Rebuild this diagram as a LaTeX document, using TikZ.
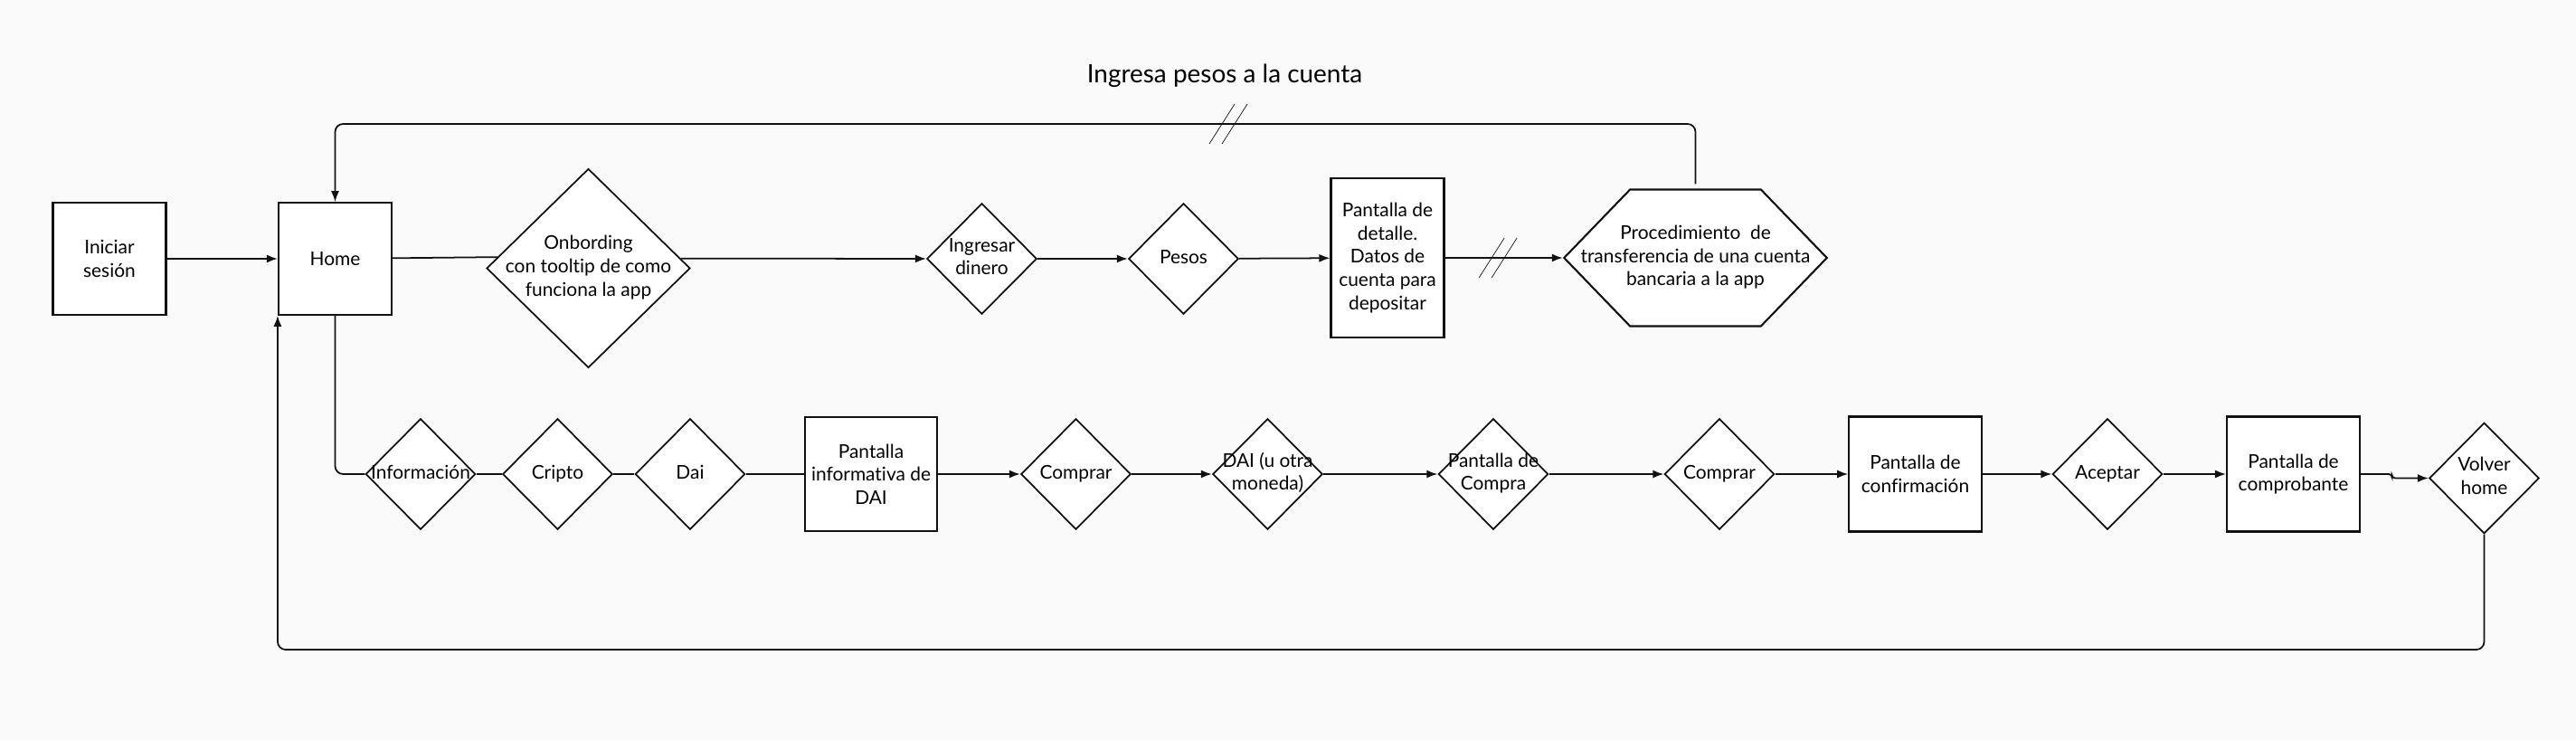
\documentclass[tikz,border=0pt]{standalone}
\usepackage{fontspec}
\setmainfont{Lato}[Ligatures=NoCommon]
\usepackage{tikz}
\usetikzlibrary{arrows.meta,shapes.geometric,shapes.symbols}
\definecolor{canvas}{HTML}{FAFAFA}
\definecolor{ink}{HTML}{111111}
\tikzset{
  screen/.style={draw=ink, line width=1.2pt, fill=white, align=center, inner sep=2pt, minimum width=2.5cm, minimum height=2.47cm},
  choice/.style={diamond, draw=ink, line width=1pt, fill=white, inner sep=0pt, minimum width=2.43cm, minimum height=2.45cm},
  procedure/.style={signal, signal to=west and east, signal pointer angle=92, draw=ink, line width=1.2pt, fill=white, inner sep=0pt, minimum width=5.81cm, minimum height=3.02cm},
  arrow/.style={-{Latex[length=2.4mm, width=1.8mm]}, line width=1pt, draw=ink},
  link/.style={line width=1pt, draw=ink},
  cutmark/.style={draw=ink, line width=0.4pt},
  breakmark/.pic={\draw[cutmark] (-0.42,-0.44) -- (0.14,0.44); \draw[cutmark] (-0.14,-0.44) -- (0.42,0.44);}
}
\newcommand{\ctext}[1]{\makebox[0pt]{\begin{tabular}{@{}c@{}}#1\end{tabular}}}

\begin{document}
\begin{tikzpicture}[font=\fontsize{11.9}{14.6}\selectfont]
  \fill[canvas] (0,0) rectangle (56.96,16.36);

  \node[font=\fontsize{15.9}{19}\selectfont] (title) at (27.08,14.69) {Ingresa pesos a la cuenta};

  % deposit flow
  \node[screen] (login) at (2.42,10.64) {Iniciar\\sesión};
  \node[screen] (home) at (7.41,10.64) {Home};
  \node[choice, minimum width=4.50cm, minimum height=4.40cm] (onboard) at (13.01,10.43) {\ctext{Onbording\\con tooltip de como\\funciona la app}};
  \node[choice] (deposit) at (21.71,10.64) {\ctext{Ingresar\\dinero}};
  \node[choice] (pesos) at (26.17,10.64) {\ctext{Pesos}};
  \node[screen, minimum height=3.51cm] (detail) at (30.68,10.66) {Pantalla de\\detalle.\\Datos de\\cuenta para\\depositar};
  \node[procedure] (transfer) at (37.49,10.66) {\ctext{Procedimiento\ \ de\\transferencia de una cuenta\\bancaria a la app}};

  % purchase flow
  \node[choice] (info) at (9.30,5.88) {\ctext{Información}};
  \node[choice] (crypto) at (12.33,5.88) {\ctext{Cripto}};
  \node[choice] (dai) at (15.26,5.88) {\ctext{Dai}};
  \node[screen, minimum width=2.92cm, minimum height=2.51cm] (daiInfo) at (19.26,5.88) {Pantalla\\informativa de\\DAI};
  \node[choice] (buy1) at (23.79,5.88) {\ctext{Comprar}};
  \node[choice] (coin) at (28.03,5.88) {\ctext{DAI (u otra\\moneda)}};
  \node[choice] (buyScreen) at (33.02,5.88) {\ctext{Pantalla de\\Compra}};
  \node[choice] (buy2) at (38.02,5.88) {\ctext{Comprar}};
  \node[screen, minimum width=2.93cm, minimum height=2.54cm] (confirm) at (42.35,5.88) {Pantalla de\\confirmación};
  \node[choice] (accept) at (46.60,5.88) {\ctext{Aceptar}};
  \node[screen, minimum width=2.94cm, minimum height=2.54cm] (receipt) at (50.71,5.88) {Pantalla de\\comprobante};
  \node[choice] (back) at (54.93,5.79) {\ctext{Volver\\home}};

  \coordinate (loopTop) at (7.41,13.62);
  \coordinate (loopBottom) at (54.93,2.00);
  \coordinate (jog) at (52.89,5.88);

  \draw[arrow] (login) -- (home);
  \draw[link] (home) -- (onboard.173.8);
  \draw[arrow] (onboard.6.2) -- (deposit);
  \draw[arrow] (deposit) -- (pesos);
  \draw[arrow] (pesos) -- (detail);
  \draw[arrow] (detail) -- (transfer) coordinate[pos=0.45] (cutMid);
  \draw[arrow, rounded corners=5pt, shorten <=1mm] (transfer.north) |- (loopTop) -- (home.north);
  \pic at (cutMid) {breakmark};
  \pic at (27.16,13.62) {breakmark};

  \draw[link, rounded corners=5pt] (home.south) |- (info.west);
  \draw[link] (info) -- (crypto);
  \draw[link] (crypto) -- (dai);
  \draw[link] (dai) -- (daiInfo);
  \draw[arrow] (daiInfo) -- (buy1);
  \draw[arrow] (buy1) -- (coin);
  \draw[arrow] (coin) -- (buyScreen);
  \draw[arrow] (buyScreen) -- (buy2);
  \draw[arrow] (buy2) -- (confirm);
  \draw[arrow] (confirm) -- (accept);
  \draw[arrow] (accept) -- (receipt);
  \draw[arrow, rounded corners=2pt] (receipt.east) -- (jog) |- (back.west);
  \draw[arrow, rounded corners=5pt] (back.south) -- (loopBottom) -| (home.south west);
\end{tikzpicture}
\end{document}
